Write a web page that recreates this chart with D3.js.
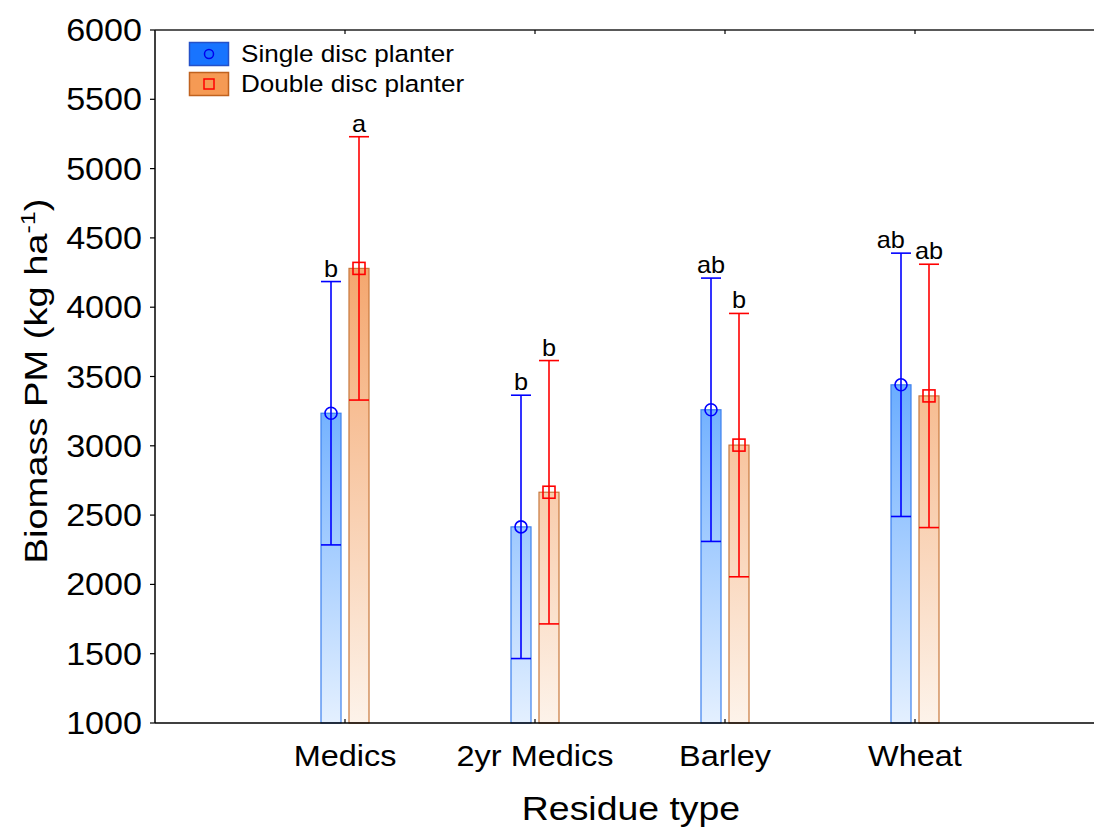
<!DOCTYPE html>
<html>
<head>
<meta charset="utf-8">
<script src="https://cdn.jsdelivr.net/npm/d3@7"></script>
<style>
  html, body { margin: 0; padding: 0; background: #fff; }
  svg { display: block; font-family: "Liberation Sans", Arial, sans-serif; }
</style>
</head>
<body>
<svg id="chart" width="1094" height="828"></svg>
<script>
// Residue types on the x axis
const categories = ["Medics", "2yr Medics", "Barley", "Wheat"];
const seriesNames = ["Single disc planter", "Double disc planter"];

// Mean biomass at physiological maturity (kg/ha)
const singleMeans = [3235, 2415, 3260, 3440];
const doubleMeans = [4280, 2665, 3005, 3360];
// Half-width of the vertical whiskers (kg/ha)
const singleErr = [950, 950, 950, 950];
const doubleErr = [950, 950, 950, 950];
// Significance letters
const singleLetters = ["b", "b", "ab", "ab"];
const doubleLetters = ["a", "b", "b", "ab"];

const yTicks = [1000, 1500, 2000, 2500, 3000, 3500, 4000, 4500, 5000, 5500, 6000];

const svg = d3.select("#chart");
const plotL = 155, plotR = 1105, plotT = 30, plotB = 723;

const x = d3.scaleLinear().domain([0, 5]).range([plotL, plotR]);
const y = d3.scaleLinear().domain([1000, 6000]).range([plotB, plotT]);

const barW = 20, offset = 14;
const stretch = 1.1;

// gradients for bar fills
const defs = svg.append("defs");
function grad(id, c0, c1) {
  const g = defs.append("linearGradient").attr("id", id)
    .attr("gradientUnits", "userSpaceOnUse")
    .attr("x1", 0).attr("x2", 0).attr("y1", y(4400)).attr("y2", y(1000));
  g.append("stop").attr("offset", 0).attr("stop-color", c0);
  g.append("stop").attr("offset", 1).attr("stop-color", c1);
}
grad("gBlue", "rgb(58,146,255)", "rgb(228,240,255)");
grad("gOrange", "rgb(244,164,106)", "rgb(253,243,234)");
defs.append("clipPath").attr("id", "plotClip").append("rect")
  .attr("x", plotL).attr("y", plotT - 2).attr("width", plotR - plotL).attr("height", plotB - plotT + 4);

const series = [
  { name: seriesNames[0], means: singleMeans, err: singleErr, letters: singleLetters, dx: -offset,
    fill: "url(#gBlue)", stroke: "#3d80ee", line: "#0000ff", marker: "circle" },
  { name: seriesNames[1], means: doubleMeans, err: doubleErr, letters: doubleLetters, dx: offset,
    fill: "url(#gOrange)", stroke: "#c9783c", line: "#ff0000", marker: "square" }
];

const plot = svg.append("g").attr("clip-path", "url(#plotClip)");

// bars
series.forEach(s => {
  plot.selectAll(null).data(s.means).join("rect")
    .attr("x", (d, i) => x(i + 1) + s.dx - barW / 2)
    .attr("y", d => y(d))
    .attr("width", barW)
    .attr("height", d => y(1000) - y(d))
    .attr("fill", s.fill)
    .attr("stroke", s.stroke)
    .attr("stroke-width", 1.2);
});

// whiskers and markers
series.forEach(s => {
  const g = plot.append("g").attr("stroke", s.line).attr("stroke-width", 1.6).attr("fill", "none");
  s.means.forEach((m, i) => {
    const cx = x(i + 1) + s.dx;
    const hi = y(m + s.err[i]), lo = y(m - s.err[i]);
    g.append("line").attr("x1", cx).attr("x2", cx).attr("y1", hi).attr("y2", lo);
    g.append("line").attr("x1", cx - barW / 2).attr("x2", cx + barW / 2).attr("y1", hi).attr("y2", hi);
    g.append("line").attr("x1", cx - barW / 2).attr("x2", cx + barW / 2).attr("y1", lo).attr("y2", lo);
    if (s.marker === "circle") {
      g.append("circle").attr("cx", cx).attr("cy", y(m)).attr("r", 6);
    } else {
      g.append("rect").attr("x", cx - 6).attr("y", y(m) - 6).attr("width", 12).attr("height", 12);
    }
  });
});

// text drawn slightly wider than the font's natural proportions
function stretchedText(parent, tx, ty, str, size, anchor) {
  return parent.append("text")
    .attr("transform", `translate(${tx},${ty}) scale(${stretch},1)`)
    .attr("text-anchor", anchor || "middle")
    .attr("font-size", size)
    .attr("fill", "#000")
    .text(str);
}

// significance letters
const letterG = svg.append("g");
const letterSize = 23;
categories.forEach((c, i) => {
  const pos = series.map(s => ({
    x: x(i + 1) + s.dx,
    y: y(s.means[i] + s.err[i]) - 5,
    t: s.letters[i]
  }));
  // nudge the left label when both labels sit at nearly the same height
  const wL = pos[0].t.length * 0.556 * letterSize * stretch;
  const wR = pos[1].t.length * 0.556 * letterSize * stretch;
  if (Math.abs(pos[0].y - pos[1].y) < letterSize) {
    const gapNeeded = 10;
    const overlap = (pos[0].x + wL / 2) - (pos[1].x - wR / 2) + gapNeeded;
    if (overlap > 0) pos[0].x -= overlap;
  }
  pos.forEach(p => stretchedText(letterG, p.x, p.y, p.t, letterSize));
});

// frame
const axis = svg.append("g").attr("stroke", "#000");
axis.append("line").attr("x1", plotL).attr("x2", plotL).attr("y1", plotT).attr("y2", plotB).attr("stroke-width", 1.5);
axis.append("line").attr("x1", plotL).attr("x2", 1094).attr("y1", plotB).attr("y2", plotB).attr("stroke-width", 1.5);
axis.append("line").attr("x1", plotL).attr("x2", 1094).attr("y1", plotT).attr("y2", plotT).attr("stroke-width", 1.5).attr("stroke", "#222");

// y ticks (outward) and labels
yTicks.forEach(t => {
  axis.append("line").attr("x1", plotL - 5).attr("x2", plotL).attr("y1", y(t)).attr("y2", y(t)).attr("stroke-width", 1.2);
  stretchedText(svg, 142, y(t) + 11, t, 31, "end");
});

// x ticks (inward, top and bottom) and labels
categories.forEach((c, i) => {
  const cx = x(i + 1);
  axis.append("line").attr("x1", cx).attr("x2", cx).attr("y1", plotB).attr("y2", plotB - 4).attr("stroke-width", 1.2);
  axis.append("line").attr("x1", cx).attr("x2", cx).attr("y1", plotT).attr("y2", plotT + 4).attr("stroke-width", 1.2);
  stretchedText(svg, cx, 766, c, 29.5);
});

// axis titles
stretchedText(svg, 631, 820, "Residue type", 34);
const yt = svg.append("text")
  .attr("transform", `translate(47,381) rotate(-90) scale(1.19,1)`)
  .attr("text-anchor", "middle")
  .attr("font-size", 32)
  .attr("fill", "#000");
yt.append("tspan").text("Biomass PM (kg ha");
yt.append("tspan").attr("font-size", 21).attr("dy", -12).text("-1");
yt.append("tspan").attr("dy", 12).text(")");

// legend
const legend = svg.append("g");
const legendItems = [
  { name: seriesNames[0], fill: "#1874ff", stroke: "#2451c8", line: "#0000ee", marker: "circle" },
  { name: seriesNames[1], fill: "#f59a54", stroke: "#c0621f", line: "#ff0000", marker: "square" }
];
legendItems.forEach((d, i) => {
  const y0 = 42 + i * 30;
  legend.append("rect").attr("x", 189.5).attr("y", y0 + 0.5).attr("width", 39).attr("height", 23)
    .attr("fill", d.fill).attr("stroke", d.stroke).attr("stroke-width", 1.5);
  if (d.marker === "circle") {
    legend.append("circle").attr("cx", 209).attr("cy", y0 + 12).attr("r", 4.5)
      .attr("fill", "none").attr("stroke", d.line).attr("stroke-width", 1.5);
  } else {
    legend.append("rect").attr("x", 204).attr("y", y0 + 7).attr("width", 10).attr("height", 10)
      .attr("fill", "none").attr("stroke", d.line).attr("stroke-width", 1.5);
  }
  stretchedText(legend, 241, y0 + 20, d.name, 23.7, "start");
});
</script>
</body>
</html>
